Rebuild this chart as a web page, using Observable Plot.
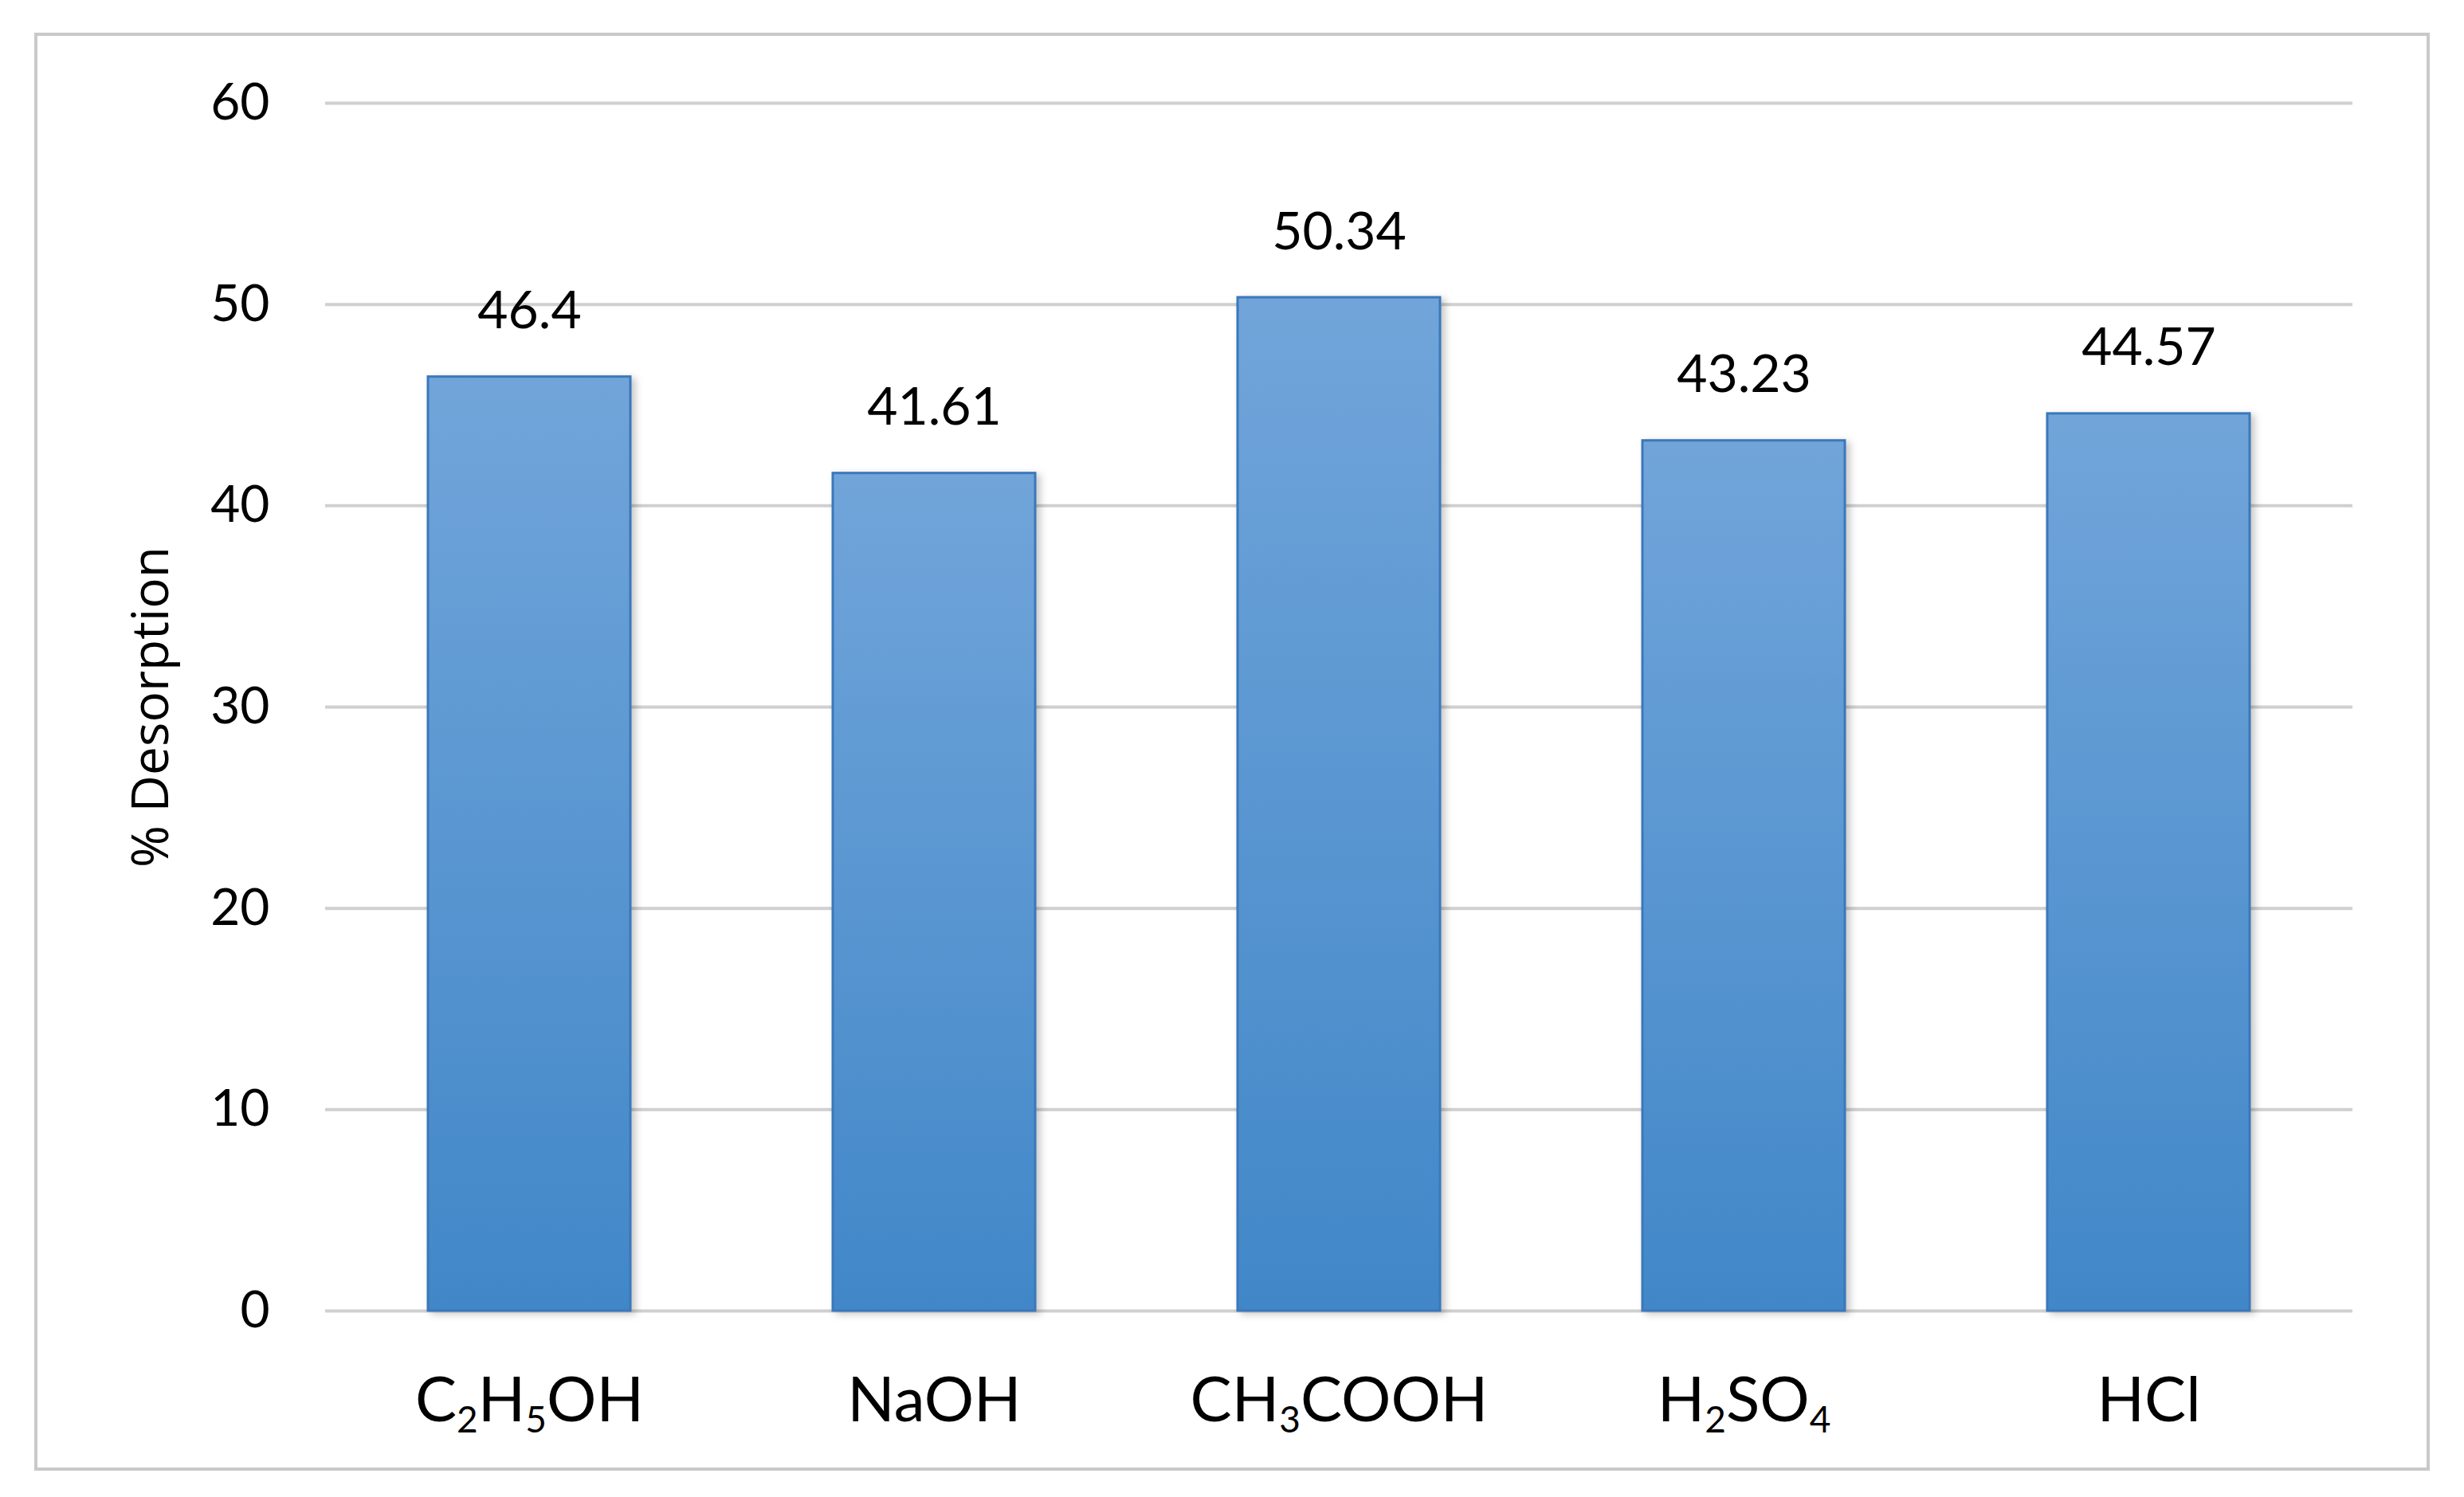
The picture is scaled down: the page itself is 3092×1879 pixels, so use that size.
<!DOCTYPE html>
<html><head><meta charset="utf-8">
<script src="https://cdn.jsdelivr.net/npm/d3@7"></script>
<script src="https://cdn.jsdelivr.net/npm/@observablehq/plot@0.6"></script>
<style>
html,body{margin:0;padding:0;background:#fff;}
#wrap{position:relative;width:3092px;height:1879px;overflow:hidden;}
#frame{position:absolute;left:43px;top:41px;width:2998px;height:1797px;border:4px solid #c9c9c9;pointer-events:none;}
#chart{position:absolute;left:0;top:0;}
</style></head>
<body><div id="wrap"><div id="chart"></div><div id="frame"></div></div>
<script>
const categories = ["C2H5OH", "NaOH", "CH3COOH", "H2SO4", "HCl"];
const values = [46.4, 41.61, 50.34, 43.23, 44.57];
const valueLabels = ["46.4", "41.61", "50.34", "43.23", "44.57"];
const yTicks = [0, 10, 20, 30, 40, 50, 60];
const yLabel = "% Desorption";

const data = categories.map((c, i) => ({category: c, value: values[i], label: valueLabels[i]}));

const chart = Plot.plot({
  width: 3092,
  height: 1879,
  marginLeft: 408,
  marginRight: 140,
  marginTop: 129,
  marginBottom: 234,
  style: {fontFamily: "Lato, sans-serif", background: "transparent", color: "#000"},
  x: {domain: categories, paddingInner: 0.5, paddingOuter: 0.25},
  y: {domain: [0, 60]},
  marks: [
    Plot.ruleY(yTicks, {stroke: "#d0d0d0", strokeWidth: 4}),
    Plot.barY(data, {x: "category", y: "value", fill: "url(#barGrad)", stroke: "#3b78bb", strokeWidth: 3}),
    Plot.text(data, {x: "category", y: "value", text: "label", dy: -82, fontSize: 66, fill: "#000"}),
    Plot.axisY({ticks: yTicks, tickSize: 0, tickPadding: 70, fontSize: 64, label: yLabel, labelAnchor: "center", labelOffset: 243, labelArrow: "none"}),
    Plot.axisX({tickSize: 0, tickPadding: 83, fontSize: 78, label: null})
  ]
});
document.getElementById("chart").appendChild(chart);

const svg = d3.select(chart);
const defs = svg.insert("defs", ":first-child");
const grad = defs.append("linearGradient").attr("id", "barGrad").attr("x1", 0).attr("y1", 0).attr("x2", 0).attr("y2", 1);
grad.append("stop").attr("offset", "0%").attr("stop-color", "#71a5da");
grad.append("stop").attr("offset", "100%").attr("stop-color", "#4187c8");

svg.selectAll('g[aria-label="bar"]').style("filter", "drop-shadow(5px 3px 5px rgba(0,0,0,0.22))");
svg.selectAll('g[aria-label="y-axis label"] text').style("font-family", "'Open Sans', sans-serif");

// chemical subscripts in x tick labels
svg.selectAll('g[aria-label="x-axis tick label"] text').each(function() {
  const t = d3.select(this);
  const s = t.text();
  t.text(null);
  const parts = s.match(/(\d+|\D+)/g) || [];
  let shifted = false;
  parts.forEach(p => {
    const ts = t.append("tspan").text(p);
    if (/^\d+$/.test(p)) {
      ts.attr("font-size", 46).attr("dy", shifted ? 0 : 14);
      shifted = true;
    } else {
      if (shifted) ts.attr("dy", -14);
      shifted = false;
    }
  });
});
</script>
</body></html>
